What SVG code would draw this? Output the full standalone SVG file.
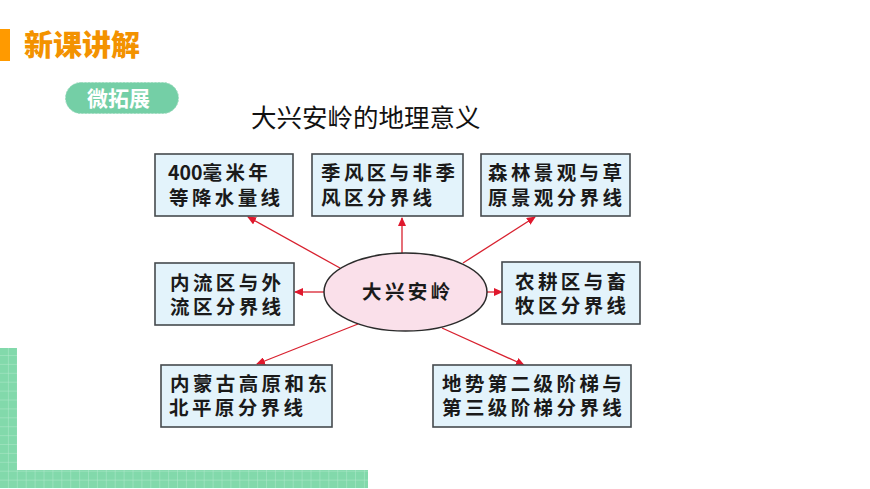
<svg xmlns="http://www.w3.org/2000/svg" width="870" height="489" viewBox="0 0 870 489">
<style>
.box{fill:#e3f3fb;stroke:#454a4e;stroke-width:1.6}
.t{font-family:"Noto Sans CJK SC","Liberation Sans",sans-serif;font-size:19.5px;font-weight:700;fill:#1a1a1a;letter-spacing:3.4px}
.c{stroke:#d8212f;stroke-width:1.3;fill:none;marker-end:url(#a)}
</style>
<defs>
<marker id="a" markerUnits="userSpaceOnUse" markerWidth="9" markerHeight="8" refX="8" refY="4" orient="auto"><path d="M0 0L9 4L0 8Z" fill="#e0182d"/></marker>
<pattern id="g" width="8.9" height="8.9" patternUnits="userSpaceOnUse"><rect width="8.9" height="8.9" fill="#82d9ab"/><path d="M8.9 0V8.9M0 8.9H8.9" stroke="#b0e9cc" stroke-width="1"/></pattern>
</defs>
<rect width="870" height="489" fill="#fff"/>
<g id="decor">
<rect x="0" y="348" width="17" height="122" fill="url(#g)"/>
<rect x="0" y="470" width="368" height="18" fill="url(#g)"/>
</g>
<g id="header">
<rect x="0" y="29" width="10" height="32" fill="#ff9a00"/>
<text x="24" y="56" font-family="Noto Sans CJK SC,Liberation Sans,sans-serif" font-size="29" font-weight="900" fill="#f39200">新课讲解</text>
</g>
<g id="badge">
<rect x="65.500" y="82.500" width="113" height="31" rx="15.500" fill="#74cfa6" stroke="#9fdcc0" stroke-dasharray="2 1.500"/>
<text x="87" y="106" font-family="Noto Sans CJK SC,Liberation Sans,sans-serif" font-size="21" font-weight="700" fill="#fff">微拓展</text>
</g>
<text id="title" x="251" y="127" font-family="Noto Sans CJK SC,Liberation Sans,sans-serif" font-size="25.500" fill="#111">大兴安岭的地理意义</text>
<g id="connectors">
<line class="c" x1="340" y1="268" x2="248" y2="217"/>
<line class="c" x1="402" y1="253" x2="402" y2="218"/>
<line class="c" x1="463" y1="263" x2="535" y2="217"/>
<line class="c" x1="324" y1="292" x2="295" y2="292"/>
<line class="c" x1="487" y1="292" x2="502" y2="292"/>
<line class="c" x1="358" y1="324" x2="257" y2="364"/>
<line class="c" x1="442" y1="328" x2="524" y2="365"/>
</g>
<g id="center">
<ellipse cx="405.500" cy="292" rx="81.500" ry="39" fill="#fae0ea" stroke="#2b2b2b" stroke-width="1.500"/>
<text class="t" x="362" y="299">大兴安岭</text>
</g>
<g id="n1"><rect class="box" x="155" y="154" width="138" height="62"/><text class="t"><tspan x="168" y="180" letter-spacing="0">400</tspan><tspan>毫米年</tspan><tspan x="169" y="205">等降水量线</tspan></text></g>
<g id="n2"><rect class="box" x="312" y="154" width="151" height="62"/><text class="t"><tspan x="321" y="180">季风区与非季</tspan><tspan x="321" y="205">风区分界线</tspan></text></g>
<g id="n3"><rect class="box" x="481" y="154" width="149" height="62"/><text class="t"><tspan x="488" y="180">森林景观与草</tspan><tspan x="488" y="205">原景观分界线</tspan></text></g>
<g id="n4"><rect class="box" x="155" y="263" width="139" height="62"/><text class="t"><tspan x="170" y="290">内流区与外</tspan><tspan x="170" y="314">流区分界线</tspan></text></g>
<g id="n5"><rect class="box" x="502" y="262" width="138" height="62"/><text class="t"><tspan x="515" y="289">农耕区与畜</tspan><tspan x="515" y="313">牧区分界线</tspan></text></g>
<g id="n6"><rect class="box" x="161" y="365" width="171" height="62"/><text class="t"><tspan x="170" y="391">内蒙古高原和东</tspan><tspan x="169" y="415">北平原分界线</tspan></text></g>
<g id="n7"><rect class="box" x="433" y="365" width="198" height="62"/><text class="t"><tspan x="442" y="391">地势第二级阶梯与</tspan><tspan x="442" y="415">第三级阶梯分界线</tspan></text></g>
</svg>
